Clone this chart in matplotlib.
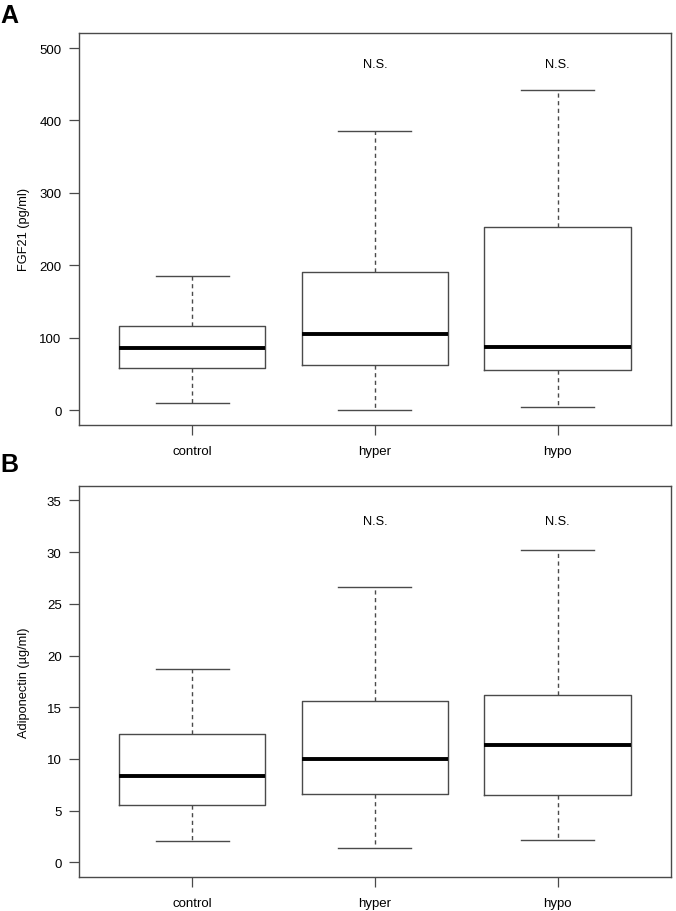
import matplotlib
matplotlib.use("Agg")
import matplotlib.pyplot as plt

plt.rcParams["font.family"] = ["Liberation Sans", "DejaVu Sans"]

groups = ["control", "hyper", "hypo"]

# panel A: FGF21 (pg/ml)
fgf_whislo = [10.6, 0.4, 5.0]
fgf_q1 = [58.3, 62.0, 55.5]
fgf_med = [85.4, 104.7, 87.7]
fgf_q3 = [116.6, 191.0, 252.5]
fgf_whishi = [185.5, 385.7, 441.7]

# panel B: Adiponectin (ug/ml)
adi_whislo = [2.09, 1.38, 2.16]
adi_q1 = [5.58, 6.61, 6.54]
adi_med = [8.38, 9.97, 11.36]
adi_q3 = [12.45, 15.58, 16.13]
adi_whishi = [18.71, 26.65, 30.2]

sig_labels = ["", "N.S.", "N.S."]

EDGE = "#4a4a4a"


def _stats(lo, q1, med, q3, hi):
    return [
        {"label": g, "whislo": a, "q1": b, "med": c, "q3": d, "whishi": e, "fliers": []}
        for g, a, b, c, d, e in zip(groups, lo, q1, med, q3, hi)
    ]


def _draw(ax, stats, ylim, yticks, ylabel, ns_y):
    ax.bxp(
        stats,
        positions=[1, 2, 3],
        widths=0.8,
        showfliers=False,
        boxprops=dict(color=EDGE, linewidth=1.0),
        whiskerprops=dict(color=EDGE, linewidth=1.0, linestyle=(0, (3, 2.5))),
        capprops=dict(color=EDGE, linewidth=1.0),
        medianprops=dict(color="black", linewidth=2.8, solid_capstyle="butt"),
        capwidths=0.4,
    )
    ax.set_xlim(0.38, 3.62)
    ax.set_ylim(*ylim)
    ax.set_yticks(yticks)
    ax.set_xticks([1, 2, 3])
    ax.set_xticklabels(groups)
    ax.set_ylabel(ylabel, fontsize=9.2)
    ax.yaxis.set_label_coords(-0.083, 0.5)
    ax.tick_params(axis="both", direction="out", length=7.5, width=0.9, color=EDGE,
                   labelsize=9.5)
    ax.tick_params(axis="x", pad=7)
    ax.tick_params(axis="y", pad=5)
    for spine in ax.spines.values():
        spine.set_color(EDGE)
        spine.set_linewidth(1.0)
    for x, lab in zip([1, 2, 3], sig_labels):
        if lab:
            ax.text(x, ns_y, lab, ha="center", va="center", fontsize=9.2)


fig = plt.figure(figsize=(6.76, 9.12), dpi=100)
ax_a = fig.add_axes([0.1169, 0.5332, 0.8753, 0.4295])
ax_b = fig.add_axes([0.1169, 0.0373, 0.8753, 0.4287])

_draw(ax_a, _stats(fgf_whislo, fgf_q1, fgf_med, fgf_q3, fgf_whishi),
      (-20, 520.7), range(0, 501, 100), "FGF21 (pg/ml)", 478)
_draw(ax_b, _stats(adi_whislo, adi_q1, adi_med, adi_q3, adi_whishi),
      (-1.43, 36.4), range(0, 36, 5), "Adiponectin (\u00b5g/ml)", 33.0)

fig.text(0.0, 0.983, "A", fontsize=18, fontweight="bold", ha="left", va="center")
fig.text(0.0, 0.49, "B", fontsize=18, fontweight="bold", ha="left", va="center")

fig.savefig("out.png", dpi=100)
plt.close(fig)
